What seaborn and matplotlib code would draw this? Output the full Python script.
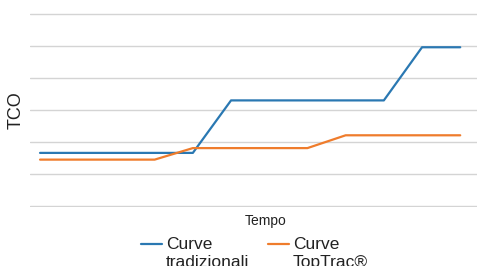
import numpy as np
import pandas as pd
import matplotlib
matplotlib.use("Agg")
import matplotlib.pyplot as plt
from matplotlib.lines import Line2D
import seaborn as sns

# data (arbitrary units, 12 time steps)
periodi = list(range(12))
tradizionali = [16.6, 16.6, 16.6, 16.6, 16.6, 33.0, 33.0, 33.0, 33.0, 33.0, 49.6, 49.6]
toptrac = [14.5, 14.5, 14.5, 14.5, 18.1, 18.1, 18.1, 18.1, 22.1, 22.1, 22.1, 22.1]
serie = ["Curve\ntradizionali", "Curve\nTopTrac®"]
colori = ["#2a78b2", "#ef7c2c"]

df = pd.DataFrame({
    "Tempo": periodi * 2,
    "TCO": tradizionali + toptrac,
    "Serie": [serie[0]] * 12 + [serie[1]] * 12,
})

sns.set_style("white")
plt.rcParams["font.family"] = ["Liberation Sans", "DejaVu Sans"]
testo = "#222222"

fig = plt.figure(figsize=(4.78, 2.66), dpi=100)
ax = fig.add_axes([0.063, 0.2218, 0.935, 0.7293])

sns.lineplot(data=df, x="Tempo", y="TCO", hue="Serie", palette=colori,
             linewidth=1.6, ax=ax, legend=False)

ax.set_xlim(-0.26, 11.44)
ax.set_ylim(-0.3, 60.3)
ax.set_yticks(np.arange(0, 61, 10))
ax.set_xticks([])
ax.tick_params(left=False, labelleft=False)
ax.grid(axis="y", color="#d4d4d4", linewidth=1)
ax.set_axisbelow(True)
for s in ["top", "right", "left", "bottom"]:
    ax.spines[s].set_visible(False)

ax.set_xlabel("Tempo", fontsize=10, color=testo)
ax.xaxis.set_label_coords(0.528, -0.035)
ax.set_ylabel("TCO", fontsize=13, color=testo)
ax.yaxis.set_label_coords(-0.013, 0.5)

# legend below the axes, line handle next to the first text line
for i, (nome, col) in enumerate(zip(serie, colori)):
    x0 = (141 + 127 * i) / 478
    fig.add_artist(Line2D([x0, x0 + 21 / 478], [1 - 244 / 266] * 2,
                          color=col, linewidth=1.6, transform=fig.transFigure))
    fig.text(x0 + 25 / 478, 1 - 237 / 266, nome, fontsize=12.5, color=testo,
             va="top", ha="left", linespacing=1.25)

plt.savefig("out.png", dpi=100)
